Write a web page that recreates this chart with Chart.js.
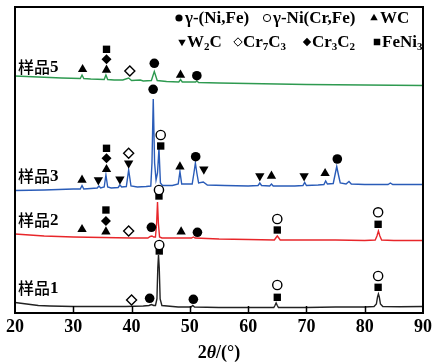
<!DOCTYPE html>
<html>
<head>
<meta charset="utf-8">
<script src="https://cdn.jsdelivr.net/npm/chart.js@4.4.1/dist/chart.umd.min.js"></script>
<style>
  html, body { margin: 0; padding: 0; background: #fff; }
  #wrap { width: 433px; height: 362px; }
</style>
</head>
<body>
<div id="wrap"><canvas id="xrd" width="433" height="362"></canvas></div>
<script>
// 2θ (°) and intensity (a.u., offset per sample)
const sample1 = [[20,10.5],[22,9],[24,7.5],[26,7],[30,6.5],[35,6.5],[39,6.5],[42,7],[43,7.5],[43.4,8.5],[43.8,7.5],
  [44.1,7.5],[44.35,14],[44.5,45],[44.62,58],[44.75,45],[44.9,14],[45.2,7.5],[48,6],[50.2,6],[50.5,7.5],[50.8,6],
  [55,5.5],[60,5.5],[64.4,5.5],[64.6,7.5],[64.8,10],[65,7.5],[65.2,5.5],[70,5.5],[75,6],[80,6],[81.6,6.5],[82.0,9],
  [82.2,16],[82.35,19],[82.5,16],[82.7,9],[83.1,6.5],[86,6.3],[90,6.5]];
const sample2 = [[20,79],[25,77],[30,76],[35,75.5],[40,75],[42.8,75],[43.2,76.5],[43.5,77],[43.8,76],[44.1,76],
  [44.3,90],[44.45,111],[44.6,90],[44.8,76],[45.2,75],[48,75],[50.3,75],[50.6,76],[50.9,75],[55,74],[60,73.5],
  [64.5,73],[64.8,75.5],[65,77],[65.2,75.5],[65.5,73],[70,73],[75,73],[80,72.5],[81.8,73],[82.1,77],[82.35,82],
  [82.6,77],[82.9,73],[85,72.5],[90,72.5]];
const sample3 = [[20,122.5],[25,123],[30,124],[31.2,124],[31.5,127.5],[31.8,124],[33,124.5],[34.1,125],[34.4,127],
  [34.7,125],[35.3,126],[35.6,138],[35.9,126],[36.5,125],[37.7,125.5],[38,128],[38.3,126],[39.1,126.5],[39.5,143],
  [39.9,127],[41,126],[42.5,126.5],[43.3,127],[43.5,150],[43.72,214],[43.95,150],[44.2,133],[44.45,140],[44.7,164.5],
  [44.95,130],[45.3,127.5],[47,127.5],[48,129],[48.3,141.5],[48.6,129],[50.4,129],[50.7,140],[50.95,150],[51.2,140],
  [51.5,130],[52.3,131],[53,128],[56,127.5],[60,127],[61.7,127.5],[62,130],[62.3,127.5],[63.7,127],[64,129],
  [64.3,127],[68,127],[69.4,127.5],[69.7,130.5],[70,127.5],[72,128],[73,128.5],[73.3,132],[73.6,129],[74.6,129.5],
  [74.9,138],[75.2,146.5],[75.5,138],[75.8,130],[76.8,129],[77.3,131.5],[77.7,129],[80,128.5],[84,128.5],
  [84.4,130],[84.8,128.5],[90,128.5]];
const sample5 = [[20,237],[24,236],[28,235],[31.2,234.5],[31.5,238],[31.8,234.5],[33,234],[35.3,233.5],[35.6,238],
  [35.9,233.5],[37,233],[38.5,233],[39.5,235],[40,232.5],[41.5,233],[42,232],[43.4,232.5],[43.9,241.5],[44.4,232.5],
  [46,231.5],[48.1,231],[48.4,233.5],[48.7,231],[51,231],[51.2,232],[51.5,230.5],[55,230],[60,229.5],[70,228.5],
  [80,228],[90,227.5]];

// phase markers [2θ, height]
const phaseNiFe = [[43.9,249.7],[51.2,237.3],[43.7,223.7],[51.0,156.3],[75.3,154],[43.4,85.7],[51.3,80.7],[43.1,14.7],[50.6,13.7]];
const phaseNiCrFe = [[45.0,178],[44.7,123],[65.0,94],[82.3,100.7],[44.75,68],[65.0,28],[82.3,37]];
const phaseWC = [[31.6,243.7],[35.7,243],[48.4,238],[31.5,133],[35.7,143.7],[48.3,146.3],[64.0,137],[73.2,139.7],[31.5,83.7],[35.6,81.3],[48.5,81.3]];
const phaseW2C = [[34.3,133],[38.0,133.7],[39.5,149.7],[52.4,143.7],[62.0,137],[69.6,137]];
const phaseCr7C3 = [[39.7,242],[39.5,159.7],[39.5,82],[40.0,13]];
const phaseCr3C2 = [[35.7,253.7],[35.7,154.7],[35.6,92]];
const phaseFeNi3 = [[35.7,263.7],[35.7,164.7],[45.0,167],[35.6,103],[44.7,117],[65.0,83],[82.3,88.7],[44.75,62],[65.0,15.7],[82.3,25.7]];

const xTicks = [20, 30, 40, 50, 60, 70, 80, 90];
const sampleLabels = [['样品', '5', 246], ['样品', '3', 137], ['样品', '2', 93], ['样品', '1', 25]];

const serif = "'Liberation Serif', 'Times New Roman', serif";
const pts = arr => arr.map(p => ({ x: p[0], y: p[1] }));

function trace(data, color) {
  return { data: pts(data), showLine: true, borderColor: color, borderWidth: 1.4, pointRadius: 0, order: 2 };
}
function marker(data, style, r, open, rot) {
  return {
    data: pts(data), pointStyle: style, pointRadius: r, pointRotation: rot || 0,
    backgroundColor: open ? '#fff' : '#000', borderColor: '#000', borderWidth: open ? 1.4 : 0, order: 0
  };
}

// legend: symbol x, text start x
const legendRows = [
  [{ style: 'circle', r: 3.6, x: 179, tx: 185, label: [['γ-(Ni,Fe)']] },
   { style: 'circle', r: 3.6, x: 267, tx: 273, open: true, label: [['γ-Ni(Cr,Fe)']] },
   { style: 'triangle', r: 4.3, x: 374, tx: 380, label: [['WC']] }],
  [{ style: 'triangle', r: 4.3, x: 182, tx: 187, rot: 180, label: [['W'], ['2', 1], ['C']] },
   { style: 'rectRot', r: 4.2, x: 238, tx: 243, open: true, label: [['Cr'], ['7', 1], ['C'], ['3', 1]] },
   { style: 'rectRot', r: 4.2, x: 307, tx: 312, label: [['Cr'], ['3', 1], ['C'], ['2', 1]] },
   { style: 'rect', r: 4.6, x: 377, tx: 382, label: [['FeNi'], ['3', 1]] }]
];

const decorPlugin = {
  id: 'decor',
  afterDatasetsDraw(chart) {
    const { ctx, chartArea: a, scales } = chart;
    const ys = scales.y;
    ctx.save();
    // sample names
    ctx.fillStyle = '#000';
    ctx.textBaseline = 'middle';
    sampleLabels.forEach(([cjk, num, yv]) => {
      const px = a.left + 3, py = ys.getPixelForValue(yv);
      ctx.font = "500 16px 'Noto Sans CJK SC'";
      ctx.fillText(cjk, px, py);
      const w = ctx.measureText(cjk).width;
      ctx.font = 'bold 17px ' + serif;
      ctx.fillText(num, px + w, py + 1);
    });
    // legend
    legendRows.forEach((row, i) => {
      const py = i === 0 ? 18 : 42;
      row.forEach(it => {
        ctx.fillStyle = it.open ? '#fff' : '#000';
        ctx.strokeStyle = '#000';
        Chart.helpers.drawPoint(ctx, { pointStyle: it.style, radius: it.r, rotation: it.rot || 0, borderWidth: it.open ? 1.3 : 0 }, it.x, py);
        ctx.fillStyle = '#000';
        let tx = it.tx;
        it.label.forEach(([t, sub]) => {
          ctx.font = sub ? 'bold 11px ' + serif : 'bold 17px ' + serif;
          ctx.fillText(t, tx, sub ? py + 5 : py + 1);
          tx += ctx.measureText(t).width;
        });
      });
    });
    ctx.restore();
  },
  afterDraw(chart) {
    const { ctx, chartArea: a, scales } = chart;
    const xs = scales.x;
    ctx.save();
    ctx.strokeStyle = '#000';
    ctx.lineWidth = 2;
    ctx.strokeRect(a.left, a.top, a.right - a.left, a.bottom - a.top);
    ctx.lineWidth = 1.5;
    xTicks.slice(1, -1).forEach(v => {
      const px = Math.round(xs.getPixelForValue(v)) + 0.5;
      ctx.beginPath();
      ctx.moveTo(px, a.bottom);
      ctx.lineTo(px, a.bottom - 7);
      ctx.stroke();
    });
    // tick labels
    ctx.fillStyle = '#000';
    ctx.textAlign = 'center';
    ctx.textBaseline = 'middle';
    ctx.font = 'bold 18px ' + serif;
    xTicks.forEach(v => ctx.fillText(String(v), xs.getPixelForValue(v), a.bottom + 14));
    // axis title 2θ/(°)
    ctx.textAlign = 'left';
    const parts = [['2', 'bold 18px '], ['θ', 'italic bold 18px '], ['/(°)', 'bold 18px ']];
    let total = 0;
    parts.forEach(p => { ctx.font = p[1] + serif; total += ctx.measureText(p[0]).width; });
    let tx = (a.left + a.right) / 2 - total / 2;
    parts.forEach(p => { ctx.font = p[1] + serif; ctx.fillText(p[0], tx, 353); tx += ctx.measureText(p[0]).width; });
    ctx.restore();
  }
};

new Chart(document.getElementById('xrd'), {
  type: 'scatter',
  data: {
    datasets: [
      marker(phaseNiFe, 'circle', 4.8),
      marker(phaseNiCrFe, 'circle', 4.6, true),
      marker(phaseWC, 'triangle', 5.4),
      marker(phaseW2C, 'triangle', 5.4, false, 180),
      marker(phaseCr7C3, 'rectRot', 5.0, true),
      marker(phaseCr3C2, 'rectRot', 5.0),
      marker(phaseFeNi3, 'rect', 5.2),
      trace(sample5, '#2e9a50'),
      trace(sample3, '#2a5cb8'),
      trace(sample2, '#e8262a'),
      trace(sample1, '#222222')
    ]
  },
  options: {
    responsive: false,
    animation: false,
    layout: { padding: { left: 15, right: 10, top: 7, bottom: 49 } },
    plugins: { legend: { display: false }, tooltip: { enabled: false } },
    scales: {
      x: { type: 'linear', display: false, min: 20, max: 90 },
      y: { display: false, min: 0, max: 306 }
    }
  },
  plugins: [decorPlugin]
});
</script>
</body>
</html>
